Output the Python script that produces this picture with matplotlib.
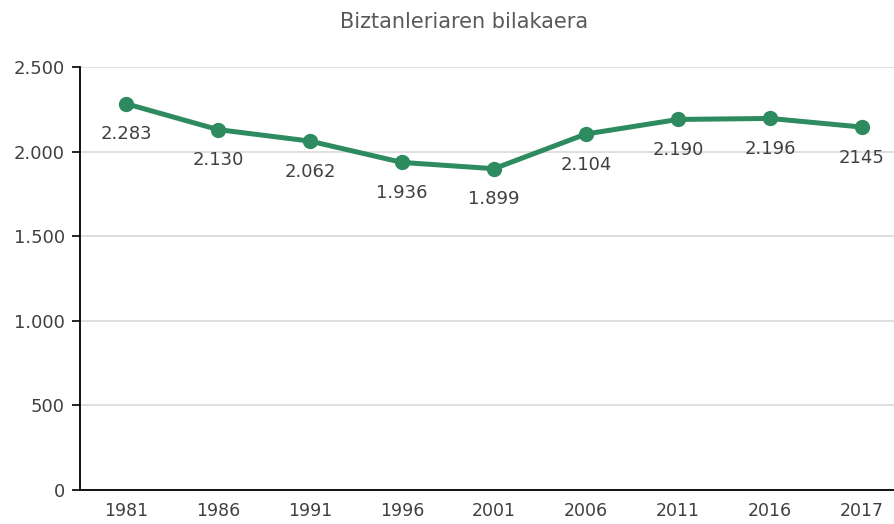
import matplotlib
matplotlib.use('Agg')
import matplotlib.pyplot as plt

years = ['1981', '1986', '1991', '1996', '2001', '2006', '2011', '2016', '2017']
population = [2283, 2130, 2062, 1936, 1899, 2104, 2190, 2196, 2145]
point_labels = ['2.283', '2.130', '2.062', '1.936', '1.899', '2.104', '2.190', '2.196', '2145']
y_ticks = [0, 500, 1000, 1500, 2000, 2500]
y_tick_labels = ['0', '500', '1.000', '1.500', '2.000', '2.500']

green = '#2e8b5f'
text_col = '#404040'

fig = plt.figure(figsize=(8.94, 5.24), dpi=100)
ax = fig.add_axes([80/894, 34/524, 828/894, 423/524])

x = list(range(len(years)))
ax.plot(x, population, color=green, lw=3.6, marker='o', ms=10, solid_capstyle='round', zorder=3)
for xi, v, s in zip(x, population, point_labels):
    ax.annotate(s, (xi, v), xytext=(0, -22), textcoords='offset points',
                ha='center', va='center', fontsize=13, color=text_col)

ax.set_xlim(-0.5, len(years) - 0.5)
ax.set_ylim(0, 2500)
ax.set_xticks(x)
ax.set_xticklabels(years)
ax.set_yticks(y_ticks)
ax.set_yticklabels(y_tick_labels)
ax.tick_params(axis='x', length=0, pad=9, labelsize=12.5, labelcolor=text_col)
ax.tick_params(axis='y', length=6, width=1.2, pad=5, labelsize=13, labelcolor=text_col)
ax.grid(axis='y', color='#d9d9d9', lw=1.2)
ax.set_axisbelow(True)
for side in ['top', 'right']:
    ax.spines[side].set_visible(False)
for side in ['left', 'bottom']:
    ax.spines[side].set_color('black')
    ax.spines[side].set_linewidth(1.3)

fig.text(464/894, 1 - 22/524, 'Biztanleriaren bilakaera', ha='center', va='center',
         fontsize=15, color='#595959')

fig.savefig('out.png', dpi=100)
